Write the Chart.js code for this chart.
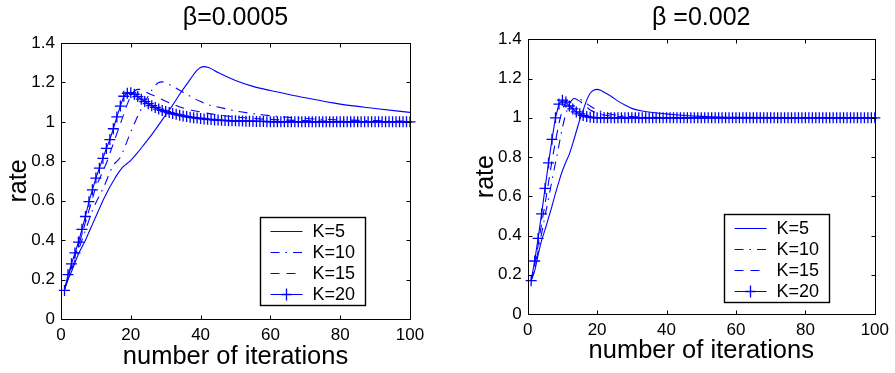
<!DOCTYPE html>
<html><head><meta charset="utf-8">
<style>
html,body{margin:0;padding:0;background:#fff;overflow:hidden}
#wrap{position:relative;width:895px;height:373px;background:#fff}
canvas{position:absolute;top:0}
#c1{left:0}
#c2{left:447px}
</style>
<script src="https://cdn.jsdelivr.net/npm/chart.js@4.4.1/dist/chart.umd.min.js"></script>
</head><body>
<div id="wrap">
<canvas id="c1" width="447" height="373"></canvas>
<canvas id="c2" width="448" height="373"></canvas>
</div>
<script>
// ---------- data ----------
const seriesNames = ['K=5', 'K=10', 'K=15', 'K=20'];
const chartTitles = ['β=0.0005', 'β =0.002'];
const xAxisTitle = 'number of iterations';
const yAxisTitle = 'rate';
const xTickValues = [0, 20, 40, 60, 80, 100];
const yTickValues = [0, 0.2, 0.4, 0.6, 0.8, 1, 1.2, 1.4];
const yTickLabels = ['0', '0.2', '0.4', '0.6', '0.8', '1', '1.2', '1.4'];
const iterations = Array.from({length: 100}, (_, i) => i + 1);

// beta = 0.0005
const left_k5_x = [1,2,3,4,5,6,7,8,9,10,11,12,13,14,15,16,17,18,19,20,22,24,26,28,30,32,34,36,38,39,40,41,42,43,45,50,55,60,65,70,80,90,100];
const left_k5_y = [0.15,0.2,0.24,0.285,0.33,0.365,0.40,0.44,0.48,0.52,0.56,0.60,0.635,0.67,0.70,0.73,0.755,0.775,0.79,0.805,0.845,0.89,0.935,0.985,1.035,1.085,1.14,1.19,1.24,1.262,1.276,1.28,1.277,1.27,1.25,1.21,1.18,1.159,1.14,1.122,1.09,1.068,1.048];
const left_k10_x = [1,2,3,4,5,6,7,8,9,10,11,12,13,14,15,16,17,18,19,20,21,22,23,24,25,26,27,28,29,30,32,35,38,40,42,45,48,50,54,58,62,66,70,75,80,90,100];
const left_k10_y = [0.15,0.2,0.25,0.3,0.35,0.4,0.45,0.5,0.55,0.59,0.625,0.66,0.70,0.745,0.78,0.80,0.82,0.86,0.905,0.95,0.99,1.03,1.065,1.1,1.13,1.16,1.185,1.2,1.203,1.198,1.18,1.15,1.12,1.103,1.088,1.075,1.063,1.055,1.044,1.035,1.028,1.022,1.017,1.013,1.01,1.006,1.003];
const left_k15_x = [1,2,3,4,5,6,7,8,9,10,11,12,13,14,15,16,17,18,19,20,21,22,23,24,25,27,30,32,35,40,45,50,60,70,80,90,100];
const left_k15_y = [0.15,0.21,0.27,0.32,0.37,0.43,0.49,0.55,0.61,0.67,0.71,0.75,0.79,0.84,0.89,0.94,0.99,1.04,1.09,1.13,1.155,1.165,1.165,1.155,1.145,1.13,1.105,1.09,1.07,1.05,1.035,1.025,1.012,1.006,1.003,1.001,1.0];
const left_k20_y = [0.145,0.225,0.28,0.335,0.39,0.455,0.52,0.595,0.655,0.715,
  0.765,0.815,0.865,0.91,0.965,1.025,1.08,1.13,1.145,1.148,
  1.14,1.128,1.115,1.103,1.092,1.082,1.073,1.065,1.058,1.052,
  1.047,1.042,1.038,1.034,1.03,1.027,1.024,1.021,1.019,1.017,
  1.015,1.013,1.012,1.01,1.009,1.008,1.007,1.006,1.005,1.005,
  1.004,1.004,1.003,1.003,1.003,1.002,1.002,1.002,1.001,1.001,
  1,1,1,1,1,1,1,1,1,1,
  1,1,1,1,1,1,1,1,1,1,
  1,1,1,1,1,1,1,1,1,1,
  1,1,1,1,1,1,1,1,1,1];

// beta = 0.002
const right_k5_x = [1,2,3,4,5,6,7,8,9,10,11,12,13,14,15,16,17,18,19,20,21,22,24,26,28,30,33,36,40,45,50,60,100];
const right_k5_y = [0.17,0.22,0.30,0.375,0.43,0.49,0.55,0.615,0.675,0.73,0.775,0.815,0.87,0.93,0.99,1.04,1.09,1.125,1.14,1.145,1.14,1.13,1.11,1.085,1.065,1.048,1.035,1.027,1.02,1.012,1.007,1.002,1.0];
const right_k10_x = [1,2,3,4,5,6,7,8,9,10,11,12,13,14,15,16,18,20,22,24,27,30,35,40,100];
const right_k10_y = [0.17,0.24,0.32,0.41,0.50,0.59,0.68,0.77,0.86,0.95,1.02,1.07,1.095,1.1,1.095,1.085,1.06,1.04,1.027,1.018,1.01,1.006,1.003,1.001,1.0];
const right_k15_x = [1,2,3,4,5,6,7,8,9,10,11,12,13,14,15,16,17,18,20,22,25,30,40,100];
const right_k15_y = [0.17,0.25,0.35,0.46,0.56,0.67,0.78,0.88,0.97,1.04,1.08,1.095,1.1,1.095,1.085,1.07,1.055,1.04,1.025,1.014,1.007,1.002,1.0,1.0];
const right_k20_y = [0.17,0.27,0.385,0.51,0.64,0.77,0.89,1.0,1.07,1.09,
  1.08,1.06,1.045,1.03,1.02,1.012,1.006,1.003,1.001,1,
  1,1,1,1,1,1,1,1,1,1,
  1,1,1,1,1,1,1,1,1,1,
  1,1,1,1,1,1,1,1,1,1,
  1,1,1,1,1,1,1,1,1,1,
  1,1,1,1,1,1,1,1,1,1,
  1,1,1,1,1,1,1,1,1,1,
  1,1,1,1,1,1,1,1,1,1,
  1,1,1,1,1,1,1,1,1,1];

// ---------- rendering ----------
const FONT = "'Liberation Sans', Arial, Helvetica, sans-serif";
const BLUE = '#0000ff';
const pairs = (xs, ys) => xs.map((x, i) => ({x: x, y: ys[i]}));

const styles = [
  {borderDash: [], pointRadius: 0},
  {borderDash: [9, 6, 1.5, 6], pointRadius: 0},
  {borderDash: [9, 7], pointRadius: 0},
  {borderDash: [], pointRadius: 5, pointStyle: 'cross'}
];

const framePlugin = {
  id: 'frame',
  afterDatasetsDraw(chart) {
    const {ctx, chartArea: a, scales} = chart;
    ctx.save();
    ctx.strokeStyle = '#000';
    ctx.lineWidth = 1;
    const L = Math.round(a.left) + 0.5, R = Math.round(a.right) + 0.5;
    const T = Math.round(a.top) + 0.5, B = Math.round(a.bottom) + 0.5;
    ctx.strokeRect(L, T, R - L, B - T);
    ctx.beginPath();
    xTickValues.forEach(v => {
      const px = Math.round(scales.x.getPixelForValue(v)) + 0.5;
      ctx.moveTo(px, B); ctx.lineTo(px, B - 4);
      ctx.moveTo(px, T); ctx.lineTo(px, T + 4);
    });
    yTickValues.forEach(v => {
      const py = Math.round(scales.y.getPixelForValue(v)) + 0.5;
      ctx.moveTo(L, py); ctx.lineTo(L + 4, py);
      ctx.moveTo(R, py); ctx.lineTo(R - 4, py);
    });
    ctx.stroke();
    ctx.restore();
  }
};

const legendBoxPlugin = {
  id: 'legendBox',
  afterDraw(chart, args, opts) {
    const {ctx, chartArea: a} = chart;
    const w = 105, h = 88;
    const x0 = Math.round(a.right - opts.right - w) + 0.5;
    const y0 = Math.round(a.bottom - opts.bottom - h) + 0.5;
    ctx.save();
    ctx.fillStyle = '#fff';
    ctx.fillRect(x0, y0, w, h);
    ctx.strokeStyle = '#000';
    ctx.lineWidth = 1.4;
    ctx.strokeRect(x0, y0, w, h);
    ctx.font = '18px ' + FONT;
    ctx.textBaseline = 'middle';
    ctx.textAlign = 'left';
    chart.data.datasets.forEach((ds, i) => {
      const y = Math.round(y0 + 13 + i * 21.2) + 0.5;
      ctx.strokeStyle = BLUE;
      ctx.lineWidth = 1;
      ctx.setLineDash(styles[i].borderDash);
      ctx.beginPath();
      ctx.moveTo(x0 + 10, y);
      ctx.lineTo(x0 + 42, y);
      ctx.stroke();
      ctx.setLineDash([]);
      if (styles[i].pointStyle === 'cross') {
        const cx = x0 + 26;
        ctx.lineWidth = 1.3;
        ctx.beginPath();
        ctx.moveTo(cx - 5, y); ctx.lineTo(cx + 5, y);
        ctx.moveTo(cx, y - 6); ctx.lineTo(cx, y + 6);
        ctx.stroke();
      }
      ctx.fillStyle = '#000';
      ctx.fillText(ds.label, x0 + 52, y + 1);
    });
    ctx.restore();
  }
};

function makeChart(id, title, lines, k20, geom) {
  const datasets = lines.map((ln, i) => ({
    label: seriesNames[i],
    data: pairs(ln[0], ln[1]),
    borderColor: BLUE,
    backgroundColor: BLUE,
    borderWidth: 1.1,
    borderDash: styles[i].borderDash,
    pointRadius: 0,
    cubicInterpolationMode: 'monotone',
    fill: false
  }));
  datasets.push({
    label: seriesNames[3],
    data: pairs(iterations, k20),
    borderColor: BLUE,
    backgroundColor: BLUE,
    borderWidth: 1.1,
    pointStyle: 'cross',
    pointRadius: 5.5,
    pointBorderWidth: 1.3,
    pointBorderColor: BLUE,
    tension: 0,
    fill: false,
    clip: 8
  });
  return new Chart(document.getElementById(id), {
    type: 'line',
    data: {datasets},
    options: {
      responsive: false,
      animation: false,
      events: [],
      layout: {padding: {left: geom.padLeft, right: geom.padRight, top: 0, bottom: 0}},
      plugins: {
        legend: {display: false},
        tooltip: {enabled: false},
        title: {
          display: true, text: title, fullSize: false, color: '#000',
          font: {family: FONT, size: 25, weight: 'normal', lineHeight: 1.2},
          padding: {top: 3, bottom: geom.titleBottom}
        },
        legendBox: {right: geom.legRight, bottom: geom.legBottom}
      },
      scales: {
        x: {
          type: 'linear', min: 0, max: 100,
          afterFit: s => { s.height = geom.xHeight; },
          afterBuildTicks: s => { s.ticks = xTickValues.map(v => ({value: v})); },
          grid: {display: false, drawTicks: false},
          border: {display: false},
          ticks: {color: '#000', padding: 6, maxRotation: 0, font: {family: FONT, size: 17},
                  callback: v => String(v)},
          title: {display: true, text: xAxisTitle, color: '#000',
                  font: {family: FONT, size: 25.5, lineHeight: 1.2},
                  padding: {top: 0, bottom: geom.xTitleBottom}}
        },
        y: {
          type: 'linear', min: 0, max: 1.4,
          afterFit: s => { s.width = geom.yWidth; },
          afterBuildTicks: s => { s.ticks = yTickValues.map(v => ({value: v})); },
          grid: {display: false, drawTicks: false},
          border: {display: false},
          ticks: {color: '#000', padding: 6, font: {family: FONT, size: 17},
                  callback: v => { const i = yTickValues.findIndex(t => Math.abs(t - v) < 1e-9); return i >= 0 ? yTickLabels[i] : ''; }},
          title: {display: true, text: yAxisTitle, color: '#000',
                  font: {family: FONT, size: 25, lineHeight: 1.2},
                  padding: {top: 4, bottom: 0}}
        }
      }
    },
    plugins: [framePlugin, legendBoxPlugin]
  });
}

makeChart('c1', chartTitles[0],
  [[left_k5_x, left_k5_y], [left_k10_x, left_k10_y], [left_k15_x, left_k15_y]],
  left_k20_y,
  {padLeft: 0, padRight: 37, titleBottom: 10, xHeight: 54, xTitleBottom: 1, yWidth: 61, legRight: 45, legBottom: 14});

makeChart('c2', chartTitles[1],
  [[right_k5_x, right_k5_y], [right_k10_x, right_k10_y], [right_k15_x, right_k15_y]],
  right_k20_y,
  {padLeft: 20, padRight: 19, titleBottom: 6.3, xHeight: 59, xTitleBottom: 6.3, yWidth: 60.7, legRight: 46, legBottom: 12});
</script>
</body></html>
